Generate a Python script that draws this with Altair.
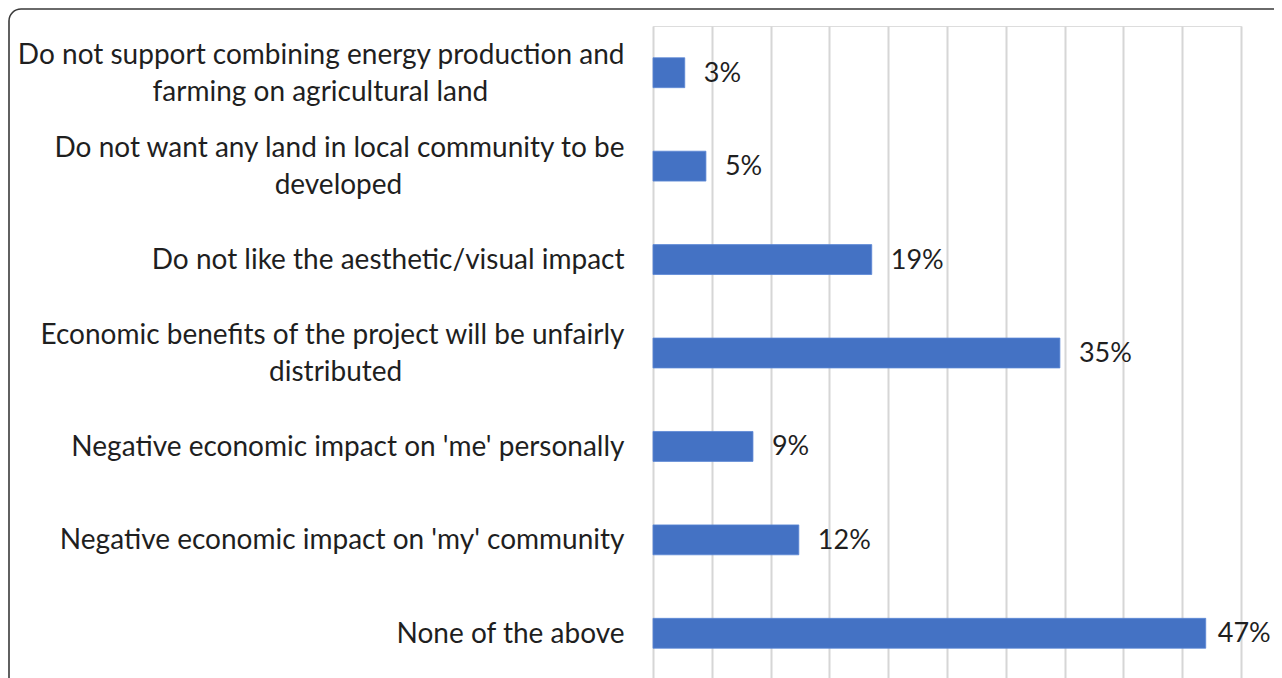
import altair as alt
import pandas as pd

# ---- data ----
categories = [
    "Do not support combining energy production and\nfarming on agricultural land",
    "Do not want any land in local community to be\ndeveloped",
    "Do not like the aesthetic/visual impact",
    "Economic benefits of the project will be unfairly\ndistributed",
    "Negative economic impact on 'me' personally",
    "Negative economic impact on 'my' community",
    "None of the above",
]
values = [2.7, 4.5, 18.6, 34.6, 8.5, 12.4, 47.0]
value_labels = ["3%", "5%", "19%", "35%", "9%", "12%", "47%"]
x_ticks = [0, 5, 10, 15, 20, 25, 30, 35, 40, 45, 50]

# ---- styling: non-breaking-space padding (right side) per label line,
# used to centre the wrapped second lines under the first ones ----
NB = "\u00a0"
ZW = "\u200b"
line_pad = [[0, 19], [0, 31], [0], [0, 31], [0], [0], [0]]


def display_label(text, pads):
    lines = text.split("\n")
    return "|".join((l + NB * p + ZW) if p else l for l, p in zip(lines, pads))


df = pd.DataFrame({
    "category": [display_label(c, p) for c, p in zip(categories, line_pad)],
    "value": values,
    "label": value_labels,
})
order = list(df["category"])

FONT = "Lato"
FS = 28
TXT = "#1f1f1f"
W, H = 588, 654

x_enc = alt.X("value:Q",
              scale=alt.Scale(domain=[0, 50], nice=False, zero=True),
              axis=alt.Axis(values=x_ticks, labels=False, ticks=False, domain=False,
                            title=None, grid=True, gridColor="#d6d6d6", gridWidth=2))
y_enc = alt.Y("category:N", sort=order,
              scale=alt.Scale(paddingInner=0.68, paddingOuter=0.34),
              axis=alt.Axis(title=None, domain=False, ticks=False,
                            labelExpr="split(datum.label, '|')",
                            labelFont=FONT, labelFontSize=FS, labelColor=TXT,
                            labelPadding=29, labelLineHeight=37, labelLimit=0,
                            labelAlign="right", labelBaseline="middle",
                            labelOffset={"condition": {"test": "indexof(datum.label, '|') >= 0",
                                                       "value": -17},
                                         "value": 1.5}))

bars = alt.Chart(df).mark_bar(color="#4472C4", stroke="#5b86d6", strokeWidth=0.8).encode(
    x=x_enc, y=y_enc)

y_txt = alt.Y("category:N", sort=order)
texts = alt.Chart(df).transform_filter("datum.value < 45").mark_text(
    align="left", baseline="middle", dx=19, dy=1,
    font=FONT, fontSize=27, color=TXT).encode(
    x="value:Q", y=y_txt, text="label:N")

# the longest bar's label is pulled in closer so it stays inside the frame
texts_end = alt.Chart(df).transform_filter("datum.value >= 45").mark_text(
    align="left", baseline="middle", dx=12, dy=1,
    font=FONT, fontSize=27, color=TXT).encode(
    x="value:Q", y=y_txt, text="label:N")

frame = alt.Chart(pd.DataFrame({"f": [0]})).mark_rect(
    fill=None, stroke="#3a3a3a", strokeWidth=1.6, cornerRadius=12).encode(
    x=alt.value(-644), x2=alt.value(W + 300),
    y=alt.value(-17), y2=alt.value(H + 300))

chart = alt.layer(frame, bars, texts, texts_end).properties(
    width=W, height=H,
    autosize=alt.AutoSizeParams(type="none"),
    padding={"left": 645, "top": 18, "right": 33, "bottom": 0},
).configure_view(stroke=None).configure(background="white")

chart.save("out.html", embed_options={"renderer": "svg", "actions": False})
